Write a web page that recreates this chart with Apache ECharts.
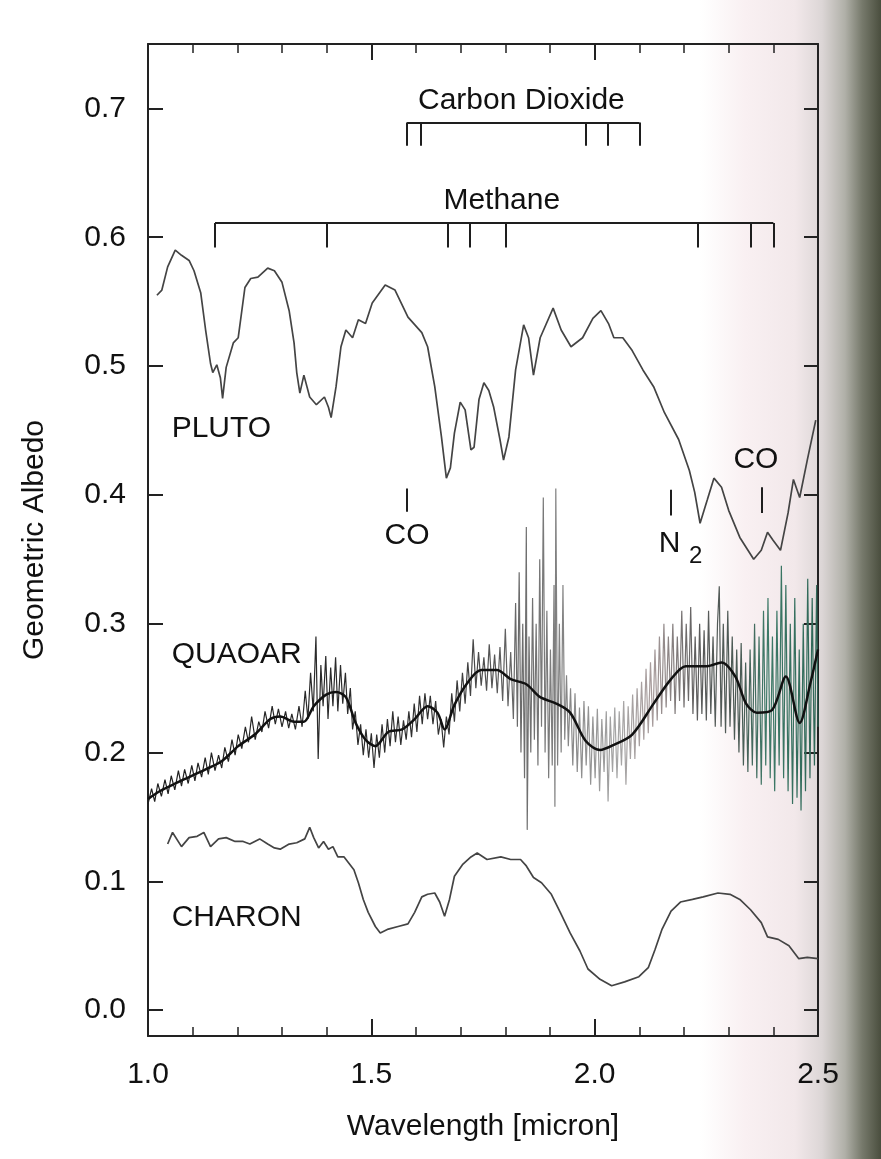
<!DOCTYPE html>
<html>
<head>
<meta charset="utf-8">
<script src="https://cdn.jsdelivr.net/npm/echarts@6/dist/echarts.min.js"></script>
<style>
html,body{margin:0;padding:0;}
body{width:881px;height:1159px;overflow:hidden;
background:linear-gradient(to right,#ffffff 0px,#ffffff 700px,#f9f0f2 745px,#f2e8ea 795px,#dcd6d6 822px,#b0b0a8 845px,#777a6c 862px,#4a4e3e 881px);}
#chart{width:881px;height:1159px;}
</style>
</head>
<body>
<div id="chart"></div>
<script>
// ---- data (wavelength in micron, geometric albedo) ----
const xTickValues = [1.0, 1.5, 2.0, 2.5];
const yTickValues = [0.0, 0.1, 0.2, 0.3, 0.4, 0.5, 0.6, 0.7];

const plutoData = [[1.020,0.555],[1.031,0.559],[1.044,0.577],[1.061,0.590],[1.075,0.586],[1.092,0.582],[1.103,0.574],[1.118,0.557],[1.129,0.528],[1.140,0.502],[1.145,0.495],[1.154,0.501],[1.162,0.491],[1.167,0.475],[1.175,0.499],[1.191,0.518],[1.202,0.522],[1.217,0.561],[1.230,0.568],[1.246,0.569],[1.268,0.576],[1.283,0.574],[1.300,0.565],[1.316,0.543],[1.327,0.518],[1.333,0.495],[1.340,0.479],[1.349,0.493],[1.362,0.476],[1.377,0.470],[1.395,0.476],[1.404,0.468],[1.410,0.460],[1.421,0.484],[1.432,0.515],[1.443,0.528],[1.458,0.522],[1.471,0.536],[1.487,0.533],[1.502,0.549],[1.531,0.563],[1.553,0.559],[1.582,0.538],[1.613,0.526],[1.626,0.515],[1.642,0.484],[1.657,0.445],[1.668,0.413],[1.677,0.421],[1.686,0.448],[1.699,0.472],[1.710,0.466],[1.723,0.435],[1.730,0.437],[1.741,0.474],[1.752,0.487],[1.763,0.481],[1.774,0.468],[1.788,0.443],[1.796,0.427],[1.808,0.445],[1.823,0.497],[1.841,0.532],[1.852,0.522],[1.863,0.493],[1.878,0.522],[1.907,0.545],[1.925,0.528],[1.947,0.515],[1.973,0.522],[1.996,0.537],[2.014,0.543],[2.031,0.533],[2.043,0.522],[2.063,0.522],[2.084,0.512],[2.108,0.497],[2.132,0.484],[2.156,0.464],[2.188,0.443],[2.212,0.419],[2.224,0.402],[2.236,0.378],[2.252,0.396],[2.267,0.413],[2.284,0.406],[2.300,0.388],[2.325,0.367],[2.356,0.350],[2.373,0.357],[2.387,0.371],[2.399,0.365],[2.416,0.357],[2.433,0.386],[2.445,0.412],[2.459,0.398],[2.476,0.427],[2.495,0.458]];

const charonData = [[1.044,0.129],[1.055,0.138],[1.075,0.127],[1.092,0.134],[1.110,0.135],[1.125,0.138],[1.140,0.127],[1.158,0.133],[1.175,0.134],[1.195,0.131],[1.213,0.131],[1.228,0.129],[1.250,0.133],[1.268,0.129],[1.283,0.126],[1.296,0.125],[1.316,0.129],[1.333,0.130],[1.351,0.133],[1.362,0.142],[1.371,0.134],[1.382,0.126],[1.393,0.131],[1.404,0.125],[1.414,0.127],[1.425,0.119],[1.439,0.119],[1.461,0.109],[1.471,0.099],[1.482,0.086],[1.493,0.076],[1.509,0.065],[1.520,0.060],[1.538,0.063],[1.560,0.065],[1.582,0.067],[1.597,0.076],[1.613,0.088],[1.626,0.090],[1.642,0.091],[1.653,0.084],[1.664,0.073],[1.675,0.086],[1.686,0.104],[1.704,0.113],[1.723,0.119],[1.737,0.122],[1.759,0.117],[1.790,0.119],[1.812,0.117],[1.834,0.117],[1.847,0.112],[1.863,0.103],[1.881,0.099],[1.903,0.090],[1.923,0.076],[1.945,0.060],[1.967,0.046],[1.985,0.032],[2.012,0.024],[2.038,0.019],[2.067,0.022],[2.099,0.026],[2.120,0.033],[2.135,0.047],[2.151,0.063],[2.171,0.077],[2.192,0.084],[2.219,0.086],[2.243,0.088],[2.276,0.091],[2.303,0.090],[2.325,0.086],[2.349,0.078],[2.373,0.068],[2.387,0.057],[2.411,0.055],[2.435,0.050],[2.457,0.040],[2.476,0.041],[2.500,0.040]];

const quaoarSmooth = [[1.000,0.164],[1.026,0.170],[1.055,0.175],[1.092,0.181],[1.129,0.187],[1.164,0.193],[1.202,0.205],[1.239,0.214],[1.274,0.226],[1.296,0.228],[1.327,0.224],[1.349,0.224],[1.371,0.236],[1.399,0.245],[1.421,0.247],[1.443,0.243],[1.465,0.223],[1.487,0.210],[1.509,0.205],[1.538,0.216],[1.569,0.218],[1.597,0.226],[1.626,0.236],[1.648,0.231],[1.664,0.218],[1.686,0.237],[1.715,0.254],[1.746,0.264],[1.781,0.264],[1.812,0.257],[1.847,0.253],[1.878,0.243],[1.914,0.238],[1.945,0.231],[1.980,0.209],[2.012,0.202],[2.043,0.206],[2.084,0.214],[2.132,0.238],[2.171,0.257],[2.204,0.267],[2.252,0.267],[2.284,0.270],[2.315,0.259],[2.339,0.238],[2.363,0.231],[2.397,0.233],[2.428,0.259],[2.459,0.223],[2.483,0.254],[2.500,0.280]];

const quaoarRaw = [[1.000,0.160],[1.008,0.172],[1.015,0.162],[1.022,0.176],[1.030,0.166],[1.038,0.179],[1.045,0.168],[1.052,0.182],[1.060,0.171],[1.068,0.186],[1.075,0.174],[1.082,0.187],[1.090,0.176],[1.098,0.190],[1.105,0.178],[1.112,0.192],[1.120,0.181],[1.128,0.196],[1.135,0.183],[1.142,0.200],[1.150,0.186],[1.158,0.198],[1.165,0.188],[1.172,0.204],[1.180,0.193],[1.188,0.210],[1.195,0.198],[1.202,0.214],[1.210,0.203],[1.218,0.220],[1.225,0.208],[1.232,0.228],[1.240,0.210],[1.248,0.224],[1.255,0.216],[1.262,0.232],[1.270,0.219],[1.278,0.236],[1.285,0.222],[1.292,0.234],[1.300,0.220],[1.308,0.232],[1.315,0.219],[1.322,0.230],[1.330,0.218],[1.338,0.236],[1.345,0.220],
[1.352,0.248],[1.358,0.226],[1.364,0.262],[1.370,0.232],[1.376,0.290],[1.381,0.195],[1.387,0.268],[1.392,0.236],[1.398,0.275],[1.403,0.226],[1.409,0.266],[1.414,0.236],[1.420,0.274],[1.425,0.232],[1.431,0.268],[1.436,0.238],[1.442,0.262],[1.447,0.230],[1.453,0.250],[1.458,0.218],
[1.464,0.232],[1.470,0.206],[1.476,0.222],[1.482,0.198],[1.488,0.218],[1.494,0.196],[1.500,0.215],[1.506,0.188],[1.512,0.214],[1.518,0.196],[1.524,0.222],[1.530,0.200],[1.536,0.226],[1.542,0.205],[1.548,0.232],[1.554,0.208],[1.560,0.228],[1.566,0.206],[1.572,0.225],[1.578,0.210],[1.584,0.232],[1.590,0.212],[1.596,0.238],[1.602,0.216],[1.608,0.244],[1.614,0.222],[1.620,0.246],[1.626,0.226],[1.632,0.244],[1.638,0.222],[1.644,0.240],[1.650,0.214],[1.656,0.226],[1.662,0.204],[1.668,0.228],[1.674,0.214],[1.680,0.246],[1.686,0.224],[1.692,0.256],[1.698,0.232],
[1.704,0.262],[1.710,0.238],[1.716,0.270],[1.722,0.244],[1.728,0.288],[1.734,0.250],[1.740,0.278],[1.746,0.252],[1.752,0.274],[1.758,0.248],[1.764,0.284],[1.770,0.250],[1.776,0.276],[1.782,0.246],[1.788,0.282],[1.794,0.240],[1.800,0.296],[1.806,0.236],[1.812,0.278],[1.818,0.226],
[1.823,0.316],[1.827,0.220],[1.831,0.340],[1.835,0.200],[1.839,0.300],[1.843,0.180],[1.847,0.375],[1.849,0.140],[1.853,0.290],[1.857,0.200],[1.861,0.320],[1.865,0.210],[1.869,0.300],[1.873,0.190],[1.877,0.350],[1.881,0.220],[1.885,0.398],[1.889,0.200],[1.893,0.310],[1.897,0.180],[1.901,0.280],[1.905,0.190],[1.909,0.330],[1.911,0.158],[1.913,0.405],[1.917,0.190],[1.921,0.300],[1.925,0.200],[1.929,0.330],[1.933,0.210],[1.937,0.260],
[1.941,0.205],[1.946,0.250],[1.951,0.190],[1.956,0.246],[1.961,0.185],[1.966,0.235],[1.971,0.180],[1.976,0.240],[1.981,0.190],[1.986,0.236],[1.991,0.175],[1.996,0.228],[2.001,0.180],[2.006,0.234],[2.011,0.170],[2.016,0.226],[2.021,0.185],[2.026,0.232],[2.030,0.162],[2.035,0.228],[2.040,0.185],[2.045,0.235],[2.050,0.180],[2.055,0.232],[2.060,0.190],[2.065,0.240],[2.070,0.175],[2.075,0.236],[2.080,0.195],[2.085,0.245],[2.090,0.195],[2.095,0.250],[2.100,0.205],[2.105,0.255],[2.110,0.210],[2.115,0.265],[2.120,0.215],
[2.125,0.270],[2.130,0.220],[2.135,0.280],[2.140,0.225],[2.145,0.290],[2.150,0.230],[2.155,0.300],[2.160,0.235],[2.165,0.290],[2.170,0.240],[2.175,0.300],[2.180,0.230],[2.185,0.290],[2.190,0.240],[2.195,0.310],[2.200,0.235],[2.205,0.300],[2.210,0.240],[2.215,0.313],[2.220,0.230],[2.225,0.290],[2.230,0.225],[2.235,0.300],[2.240,0.230],[2.245,0.295],[2.250,0.225],[2.255,0.310],[2.260,0.230],[2.265,0.290],[2.270,0.220],[2.275,0.300],[2.279,0.329],[2.283,0.220],[2.288,0.300],[2.293,0.215],[2.298,0.310],[2.303,0.220],[2.308,0.290],[2.313,0.210],[2.318,0.280],[2.323,0.200],[2.328,0.285],[2.333,0.190],[2.338,0.270],[2.343,0.185],
[2.348,0.280],[2.353,0.190],[2.358,0.300],[2.363,0.180],[2.368,0.290],[2.373,0.175],[2.378,0.310],[2.383,0.190],[2.388,0.320],[2.393,0.180],[2.398,0.290],[2.403,0.170],[2.408,0.310],[2.413,0.190],[2.418,0.345],[2.423,0.180],[2.428,0.330],[2.433,0.170],[2.438,0.300],[2.443,0.160],[2.448,0.320],[2.453,0.165],[2.458,0.280],[2.462,0.155],[2.467,0.300],[2.472,0.170],[2.477,0.335],[2.482,0.180],[2.487,0.320],[2.492,0.190],[2.497,0.330],[2.500,0.220]];

// absorption band positions (micron) and bracket levels (albedo)
const co2Bands = [1.58, 1.61, 1.98, 2.03, 2.10];
const co2Level = [0.689, 0.671];
const ch4Bands = [1.15, 1.40, 1.67, 1.72, 1.80, 2.23, 2.35, 2.40];
const ch4Level = [0.611, 0.592];
const iceMarkX = [1.58, 2.171, 2.375];
const iceMarkY = [[0.387, 0.405], [0.384, 0.404], [0.386, 0.406]];

const planetNames = ['PLUTO', 'QUAOAR', 'CHARON'];
const planetLabelAt = [[1.053, 0.451], [1.053, 0.276], [1.053, 0.072]];
const centerTexts = ['Carbon Dioxide', 'Methane', 'CO', 'CO', 'N'];
const centerTextAt = [[1.836, 0.706], [1.792, 0.628], [1.58, 0.368], [2.361, 0.427], [2.168, 0.362]];
const subText = ['2'];
const subTextAt = [[2.226, 0.352]];

// ---- chart ----
const FONT = "'Liberation Sans', Arial, Helvetica, sans-serif";
const INK = '#111111';

function bracketLines(bands, lv) {
  const out = [[{coord: [bands[0], lv[0]]}, {coord: [bands[bands.length - 1], lv[0]]}]];
  bands.forEach(b => out.push([{coord: [b, lv[0]]}, {coord: [b, lv[1]]}]));
  return out;
}
const markData = bracketLines(co2Bands, co2Level)
  .concat(bracketLines(ch4Bands, ch4Level))
  .concat(iceMarkX.map((x, i) => [{coord: [x, iceMarkY[i][0]]}, {coord: [x, iceMarkY[i][1]]}]));

const chart = echarts.init(document.getElementById('chart'), null, {renderer: 'canvas'});
const axisLineStyle = {color: '#222', width: 2};
const textLabel = (pos, size) => ({show: true, formatter: '{b}', position: pos, distance: 0,
  fontSize: size, color: INK, fontFamily: FONT, opacity: 1, textBorderWidth: 0});

const option = {
  animation: false,
  backgroundColor: 'transparent',
  textStyle: {fontFamily: FONT},
  grid: {left: 148, right: 63, top: 44, bottom: 123},
  xAxis: [{
    type: 'value', min: 1.0, max: 2.5, interval: 0.5, position: 'bottom',
    axisLine: {show: true, onZero: false, lineStyle: axisLineStyle},
    axisTick: {show: true, inside: true, length: 17, lineStyle: {color: '#222', width: 2}},
    minorTick: {show: true, splitNumber: 5, length: 9, lineStyle: {color: '#222', width: 1.5}},
    splitLine: {show: false},
    axisLabel: {fontSize: 30, color: INK, margin: 24, fontFamily: FONT,
      formatter: v => xTickValues.some(t => Math.abs(t - v) < 1e-9) ? v.toFixed(1) : ''},
    name: 'Wavelength [micron]', nameLocation: 'middle', nameGap: 76,
    nameTextStyle: {fontSize: 30, color: INK, fontFamily: FONT}
  }, {
    type: 'value', min: 1.0, max: 2.5, interval: 0.5, position: 'top',
    axisLine: {show: true, onZero: false, lineStyle: axisLineStyle},
    axisTick: {show: true, inside: true, length: 16, lineStyle: {color: '#222', width: 2}},
    minorTick: {show: true, splitNumber: 5, length: 9, lineStyle: {color: '#222', width: 1.5}},
    splitLine: {show: false}, axisLabel: {show: false}
  }],
  yAxis: [{
    type: 'value', min: -0.02, max: 0.75, position: 'left',
    axisLine: {show: true, onZero: false, lineStyle: axisLineStyle},
    axisTick: {show: true, inside: true, length: 15, customValues: yTickValues, lineStyle: {color: '#222', width: 2}},
    splitLine: {show: false},
    axisLabel: {fontSize: 30, color: INK, margin: 22, fontFamily: FONT, customValues: yTickValues,
      formatter: v => Number(v).toFixed(1)},
    name: 'Geometric Albedo', nameLocation: 'middle', nameGap: 98, nameRotate: 90,
    nameTextStyle: {fontSize: 30, color: INK, fontFamily: FONT}
  }, {
    type: 'value', min: -0.02, max: 0.75, position: 'right',
    axisLine: {show: true, onZero: false, lineStyle: axisLineStyle},
    axisTick: {show: true, inside: true, length: 14, customValues: yTickValues, lineStyle: {color: '#222', width: 2}},
    splitLine: {show: false}, axisLabel: {show: false}
  }],
  series: [
    {
      name: 'Quaoar raw', type: 'line', data: quaoarRaw, showSymbol: false, silent: true, z: 2,
      lineStyle: {width: 1.2, color: new echarts.graphic.LinearGradient(0, 0, 1, 0, [
        {offset: 0, color: '#1e1e1e'}, {offset: 0.45, color: '#333333'}, {offset: 0.55, color: '#6a6a6a'},
        {offset: 0.63, color: '#888888'}, {offset: 0.7, color: '#a6a6a6'}, {offset: 0.75, color: '#a89c9c'},
        {offset: 0.82, color: '#5a5a5a'}, {offset: 0.88, color: '#4a5a54'}, {offset: 0.92, color: '#3e7a68'},
        {offset: 1, color: '#2e6656'}])}
    },
    {
      name: 'Quaoar', type: 'line', data: quaoarSmooth, showSymbol: false, silent: true, smooth: 0.3, z: 3,
      lineStyle: {width: 2.5, color: '#111111'}
    },
    {
      name: 'Pluto', type: 'line', data: plutoData, showSymbol: false, silent: true, z: 3,
      lineStyle: {width: 1.7, color: '#444'},
      markLine: {silent: true, symbol: 'none', animation: false, label: {show: false},
        lineStyle: {color: '#1e1e1e', width: 2, type: 'solid'}, emphasis: {disabled: true},
        data: markData}
    },
    {
      name: 'Charon', type: 'line', data: charonData, showSymbol: false, silent: true, z: 3,
      lineStyle: {width: 1.7, color: '#444'}
    },
    {
      type: 'scatter', symbolSize: 0, silent: true, z: 5, itemStyle: {opacity: 1},
      data: planetNames.map((n, i) => ({name: n, value: planetLabelAt[i]})),
      label: textLabel('right', 30)
    },
    {
      type: 'scatter', symbolSize: 0, silent: true, z: 5, itemStyle: {opacity: 1},
      data: centerTexts.map((n, i) => ({name: n, value: centerTextAt[i]})),
      label: textLabel('inside', 30)
    },
    {
      type: 'scatter', symbolSize: 0, silent: true, z: 5, itemStyle: {opacity: 1},
      data: subText.map((n, i) => ({name: n, value: subTextAt[i]})),
      label: textLabel('inside', 24)
    }
  ]
};
chart.setOption(option);
</script>
</body>
</html>
